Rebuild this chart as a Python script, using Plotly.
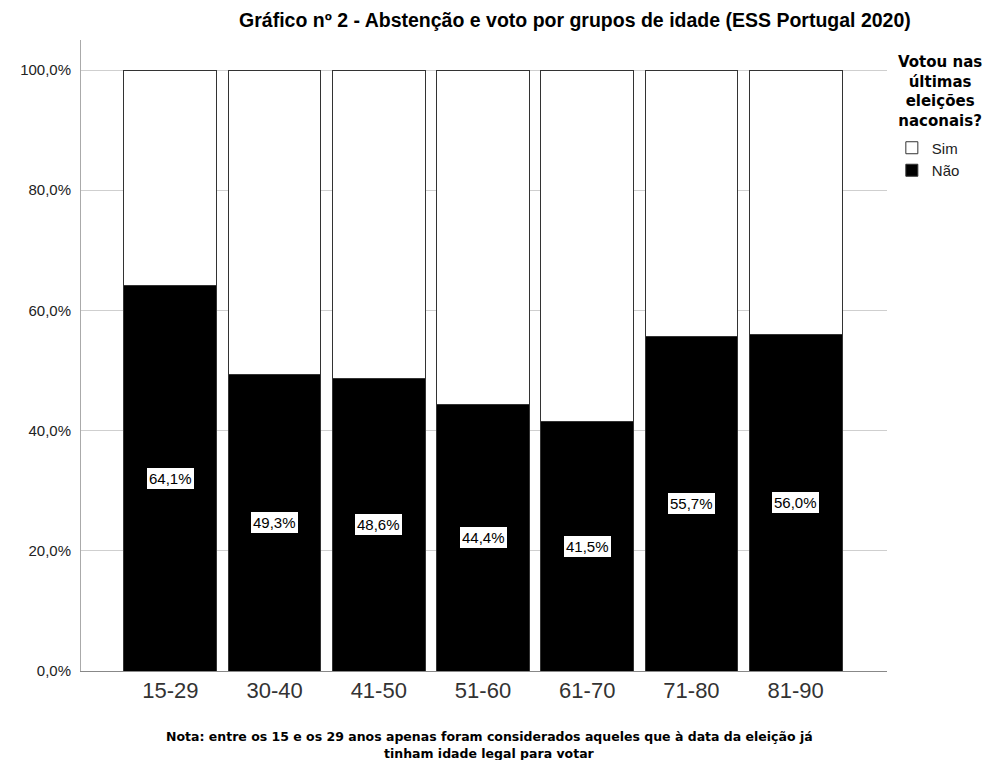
import plotly.graph_objects as go

grupos = ["15-29", "30-40", "41-50", "51-60", "61-70", "71-80", "81-90"]
nao = [64.1, 49.3, 48.6, 44.4, 41.5, 55.7, 56.0]
sim = [round(100 - v, 1) for v in nao]
y_ticks = [0, 20, 40, 60, 80, 100]
y_labels = ["0,0%", "20,0%", "40,0%", "60,0%", "80,0%", "100,0%"]

font = "Liberation Sans, Arial, sans-serif"
font_bold = "DejaVu Sans, Arial, sans-serif"

fig = go.Figure()
fig.add_trace(go.Bar(
    x=grupos, y=nao, name="Não", width=0.89,
    marker=dict(color="black", line=dict(color="#333333", width=1)),
    hoverinfo="skip",
))
fig.add_trace(go.Bar(
    x=grupos, y=sim, name="Sim", width=0.89,
    marker=dict(color="white", line=dict(color="#333333", width=1)),
    hoverinfo="skip",
))

for g, v in zip(grupos, nao):
    fig.add_annotation(
        x=g, y=v / 2, text=f"{v:.1f}%".replace(".", ","),
        showarrow=False, bgcolor="white", bordercolor="black", borderwidth=1,
        borderpad=2, font=dict(family=font, size=15, color="black"),
    )

# nota de rodapé
fig.add_annotation(
    xref="paper", yref="paper", x=0.507, y=-0.1045, yanchor="middle",
    text="<b>Nota: entre os 15 e os 29 anos apenas foram considerados aqueles que à data da eleição já</b>",
    showarrow=False, font=dict(family=font_bold, size=12.5, color="black"),
)
fig.add_annotation(
    xref="paper", yref="paper", x=0.507, y=-0.1305, yanchor="middle",
    text="<b>tinham idade legal para votar</b>",
    showarrow=False, font=dict(family=font_bold, size=12.5, color="black"),
)

# título da legenda
fig.add_annotation(
    xref="paper", yref="paper", x=1.066, y=0.982, yanchor="top", xanchor="center",
    text="<b>Votou nas<br>últimas<br>eleições<br>naconais?</b>", align="center",
    showarrow=False, font=dict(family=font_bold, size=15, color="black"),
)

# a página desloca a figura 8px (margem do body), por isso 986x752
fig.update_layout(
    width=986, height=752,
    barmode="stack",
    plot_bgcolor="white", paper_bgcolor="white",
    margin=dict(l=69, r=107, t=32, b=89),
    font=dict(family=font, size=12, color="#222222"),
    title=dict(
        text="<b>Gráfico nº 2 - Abstenção e voto por grupos de idade (ESS Portugal 2020)</b>",
        x=0.575, xanchor="center", y=0.984, yanchor="middle",
        font=dict(family=font, size=19.5, color="black"),
    ),
    xaxis=dict(
        range=[-0.857, 6.876], showline=True, linecolor="#888888", linewidth=1,
        ticks="", tickfont=dict(family=font, size=22, color="#333333"),
        showgrid=False,
    ),
    yaxis=dict(
        range=[0, 105], tickvals=y_ticks, ticktext=y_labels,
        showline=True, linecolor="#aaaaaa", linewidth=1,
        gridcolor="#cfcfcf", gridwidth=1, zeroline=False,
        ticks="", ticklabelstandoff=6,
        tickfont=dict(family=font, size=15, color="#222222"),
    ),
    legend=dict(
        x=1.006, xanchor="left", y=0.855, yanchor="top",
        traceorder="reversed",
        font=dict(family=font, size=15, color="#222222"),
        itemwidth=30, tracegroupgap=0,
    ),
)

fig.write_html("out.html")
